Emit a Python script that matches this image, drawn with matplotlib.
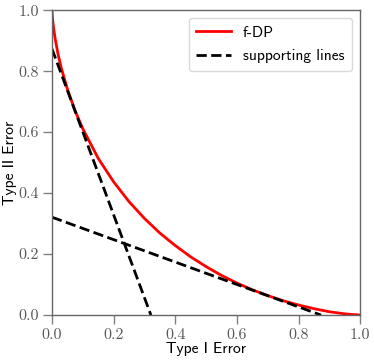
import matplotlib
matplotlib.use('Agg')
import matplotlib.pyplot as plt

# f-DP trade-off curve
type1 = [0.0, 0.001, 0.002, 0.005, 0.01, 0.02, 0.03, 0.05, 0.075, 0.1, 0.15, 0.2,
         0.25, 0.3, 0.35, 0.4, 0.45, 0.5, 0.55, 0.6, 0.65, 0.7, 0.75, 0.8,
         0.85, 0.9, 0.95, 1.0]
type2 = [1.0, 0.982, 0.970, 0.943, 0.908, 0.854, 0.811, 0.741, 0.670, 0.611, 0.514, 0.437,
         0.372, 0.317, 0.269, 0.228, 0.191, 0.159, 0.130, 0.105, 0.083, 0.064, 0.047, 0.033,
         0.021, 0.011, 0.004, 0.0]

# supporting lines: (x, y) end points
steep_x = [0.0, 0.321]
steep_y = [0.873, 0.0]
flat_x = [0.0, 0.873]
flat_y = [0.321, 0.0]

ticks = [0.0, 0.2, 0.4, 0.6, 0.8, 1.0]
tick_labels = ['0.0', '0.2', '0.4', '0.6', '0.8', '1.0']

fig = plt.figure(figsize=(3.74, 3.63), dpi=100)
ax = fig.add_axes([0.139, 0.132, 0.824, 0.840])

ax.plot(type1, type2, color='red', linewidth=2, label='f-DP')
ax.plot(steep_x, steep_y, color='black', linestyle='--', linewidth=2, label='supporting lines')
ax.plot(flat_x, flat_y, color='black', linestyle='--', linewidth=2)

ax.set_xlim(0, 1)
ax.set_ylim(0, 1)
ax.set_xticks(ticks)
ax.set_yticks(ticks)
ax.set_xticklabels(tick_labels, fontfamily='cmr10', fontsize=11.5, color='0.35')
ax.set_yticklabels(tick_labels, fontfamily='cmr10', fontsize=11.5, color='0.35')
ax.tick_params(length=6.5, width=1, color='0.5', pad=3)
for s in ax.spines.values():
    s.set_color('0.4')
    s.set_linewidth(1)

ax.set_xlabel('Type I Error', fontfamily='cmss10', fontsize=11.2, labelpad=0)
ax.set_ylabel('Type II Error', fontfamily='cmss10', fontsize=11.2, labelpad=1)

leg = ax.legend(loc='upper right', prop={'family': 'cmss10', 'size': 11.2},
                handlelength=2.2, handletextpad=0.8, borderpad=0.5,
                labelspacing=0.6, framealpha=1)
leg.get_frame().set_edgecolor('0.85')

fig.savefig('out.png', dpi=100, facecolor='white')
